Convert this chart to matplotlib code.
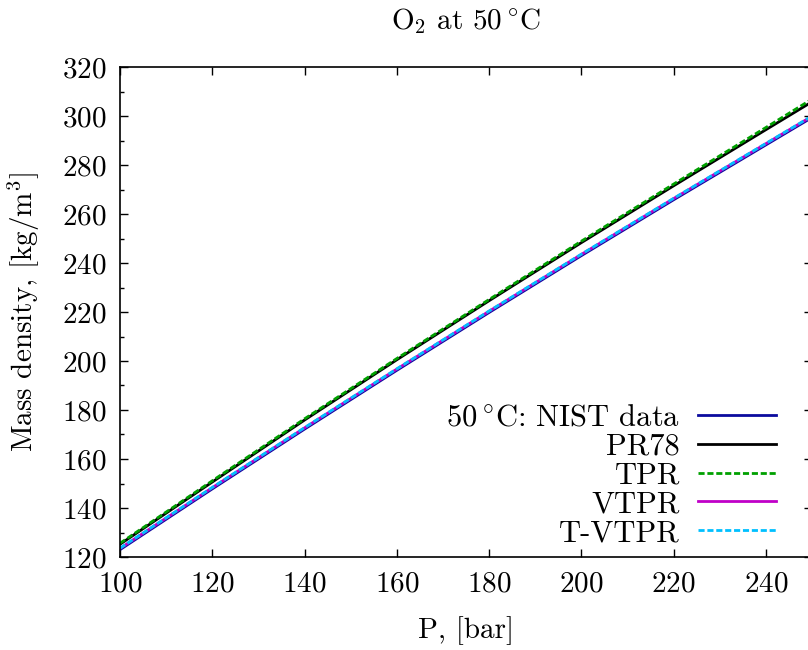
import matplotlib
matplotlib.use("Agg")
import matplotlib.pyplot as plt
from matplotlib.ticker import MultipleLocator

plt.rcParams['font.family'] = 'cmr10'
plt.rcParams['mathtext.fontset'] = 'cm'
plt.rcParams['axes.formatter.use_mathtext'] = True

# pressure [bar] and mass density [kg/m3]
pressure = [100, 120, 140, 160, 180, 200, 220, 240, 250]
nist = [123.0, 147.8, 172.2, 196.2, 219.8, 243.0, 265.8, 288.2, 299.4]
pr78 = [125.2, 150.6, 175.9, 200.5, 224.6, 248.3, 271.5, 294.4, 305.8]
tpr = [125.6, 151.1, 176.4, 201.0, 225.1, 248.9, 272.2, 295.3, 306.9]
vtpr = [123.5, 148.3, 172.7, 196.7, 220.3, 243.5, 266.3, 288.7, 299.9]
tvtpr = [123.6, 148.4, 172.8, 196.8, 220.4, 243.6, 266.4, 288.8, 300.0]

labels = [r'50$\,^{\circ}$C: NIST data', 'PR78', 'TPR', 'VTPR', 'T-VTPR']

fs = 21
fs_leg = 22

def main():
	fig = plt.figure(figsize=(8.08, 6.5), dpi=100)
	# right edge of the axes sits just outside the canvas, as in the original
	ax = fig.add_axes([120/808, 93/650, 692/808, 490/650])

	ax.plot(pressure, nist, color='#0b0b9e', lw=2.0, label=labels[0])
	ax.plot(pressure, pr78, color='black', lw=2.0, label=labels[1])
	ax.plot(pressure, tpr, color='#00a000', lw=2.0, ls=(0, (2.2, 1.0)), label=labels[2])
	ax.plot(pressure, vtpr, color='#c000c8', lw=2.0, label=labels[3])
	ax.plot(pressure, tvtpr, color='#00c0ff', lw=2.0, ls=(0, (2.2, 1.0)), label=labels[4])

	ax.set_xlim(100, 250)
	ax.set_ylim(120, 320)
	ax.xaxis.set_major_locator(MultipleLocator(20))
	ax.yaxis.set_major_locator(MultipleLocator(20))
	ax.yaxis.set_minor_locator(MultipleLocator(10))

	ax.tick_params(which='both', direction='in', top=True, right=True, labelsize=fs, width=1.0)
	ax.tick_params(which='major', length=6)
	ax.tick_params(which='minor', length=3)
	ax.tick_params(axis='x', pad=10)
	ax.tick_params(axis='y', pad=10)
	for s in ax.spines.values():
		s.set_linewidth(1.2)

	ax.set_title(r'O$_2$ at 50$\,^{\circ}$C', fontsize=fs, pad=27)
	ax.set_xlabel('P, [bar]', fontsize=fs, labelpad=14)
	ax.set_ylabel(r'Mass density, [kg/m$^3$]', fontsize=fs, labelpad=14)

	ax.legend(loc='upper right', bbox_to_anchor=(0.975, 0.35), frameon=False,
		markerfirst=False, fontsize=fs_leg, handlelength=2.55, handletextpad=0.6,
		labelspacing=0.05, borderaxespad=0.2)

	fig.savefig('out.png', dpi=100)

if __name__ == "__main__":
	main()
